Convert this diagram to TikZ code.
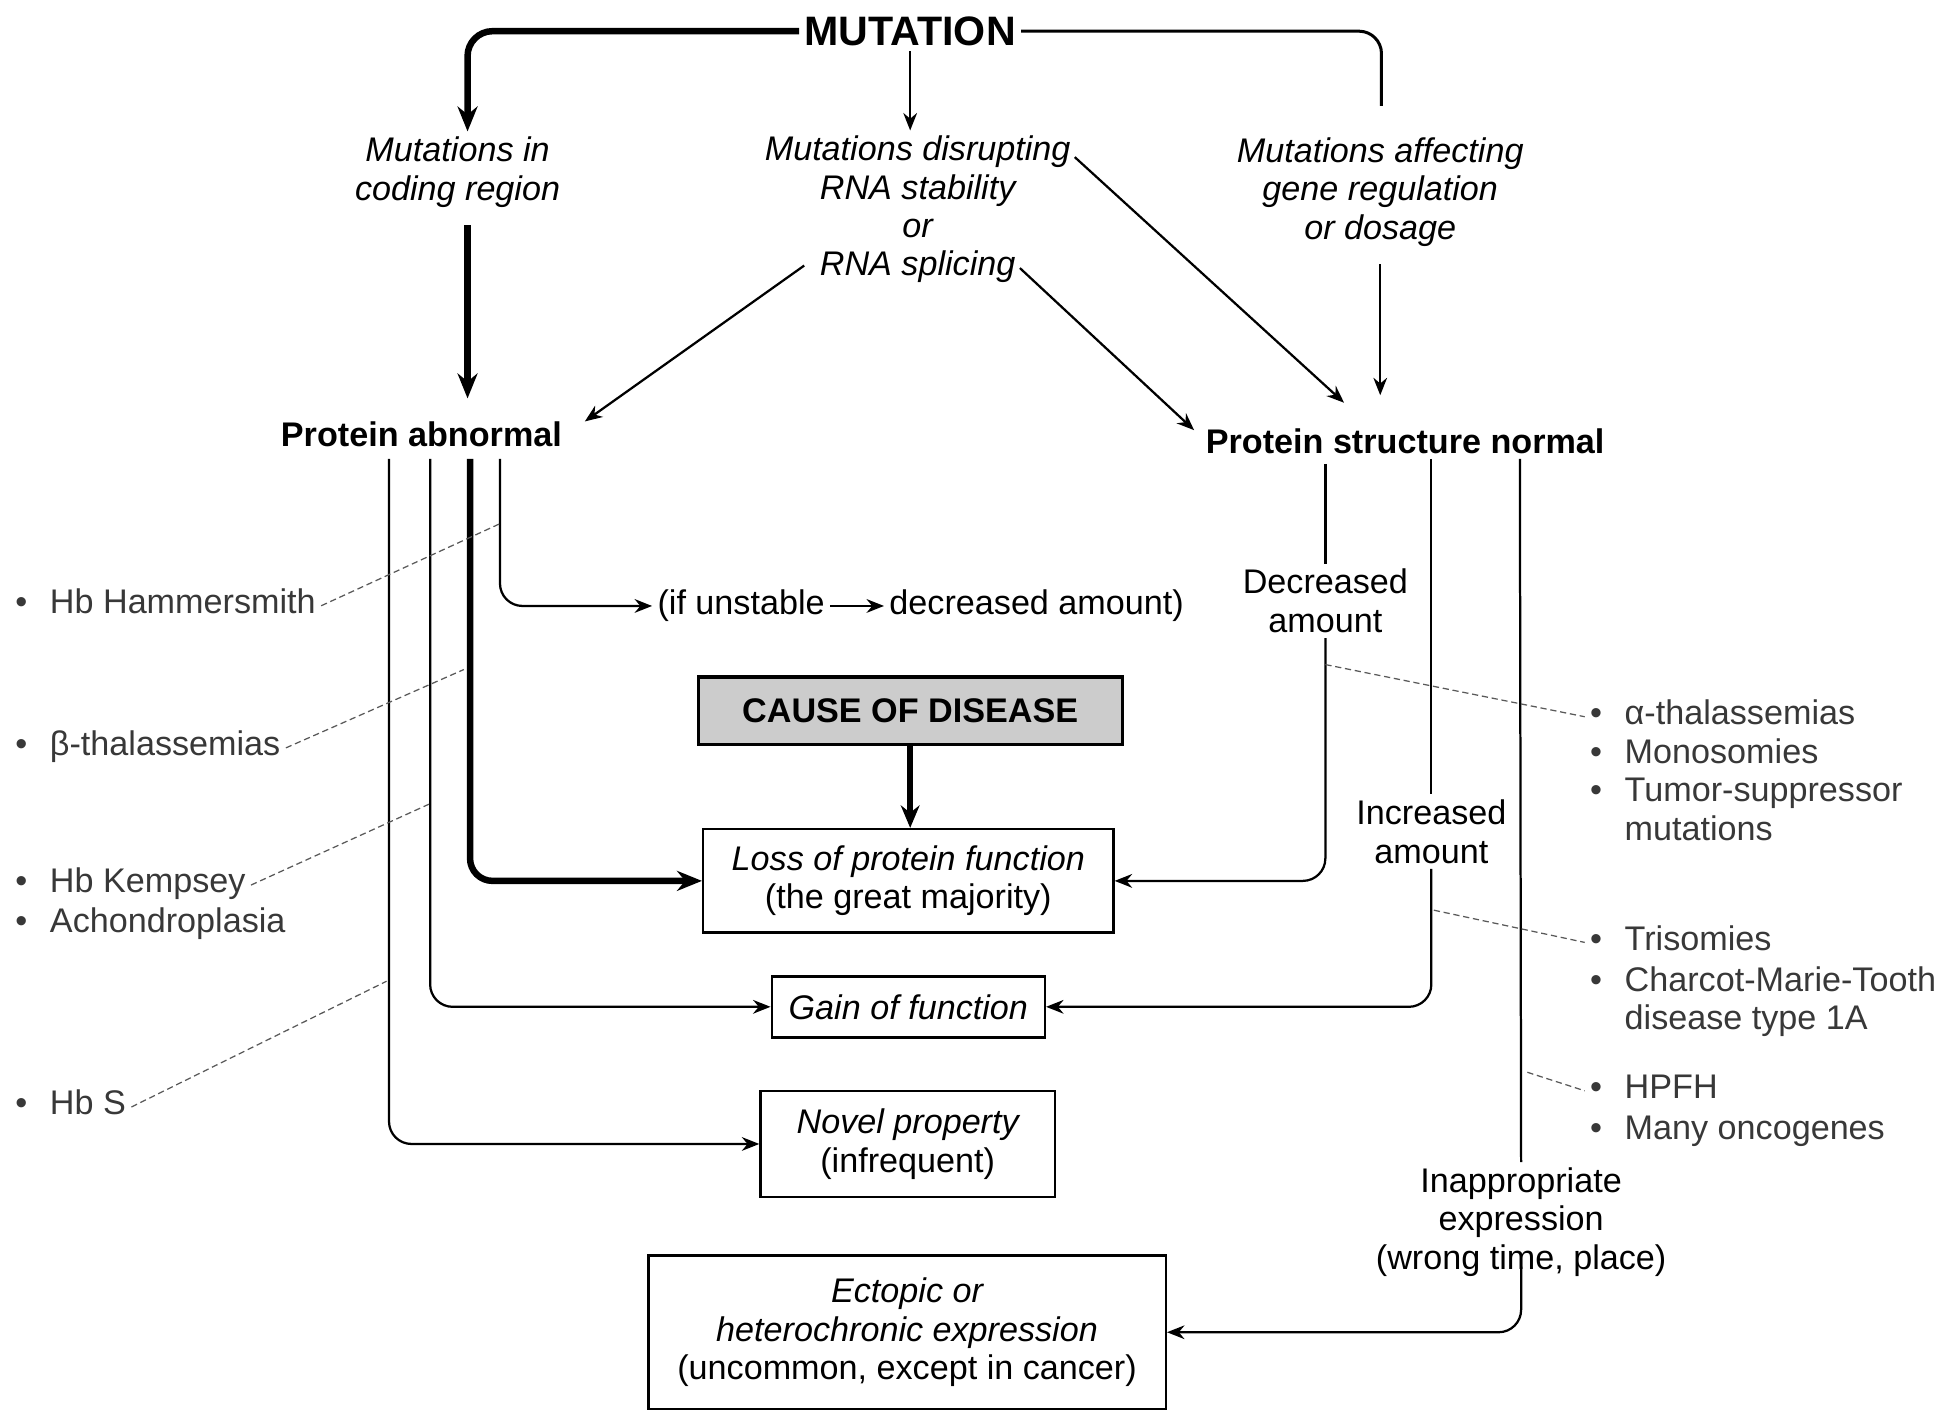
\documentclass[tikz,border=0pt]{standalone}
\usepackage{fontspec}
\setmainfont{Liberation Sans}
\usetikzlibrary{arrows.meta,calc}
\newcommand\bitem[1]{\begin{tabular}[t]{@{}l@{\hspace{0.66em}}l@{}}\textbullet & #1\end{tabular}}
\begin{document}
\begin{tikzpicture}[x=0.5pt,y=-0.5pt,
  fnt/.style={font=\fontsize{13.7}{15.4}\selectfont},
  base/.style={inner sep=2pt, fnt, align=center},
  itl/.style={base, font=\fontsize{13.7}{15.4}\selectfont\itshape},
  bld/.style={base, font=\fontsize{13.7}{15.4}\selectfont\bfseries},
  ann/.style={inner sep=2pt, fnt, anchor=base west, text=black!78},
  boxed/.style={base, draw, line width=1pt},
  ln/.style={line width=0.9pt},
  arr/.style={ln, -{Stealth[length=7pt,width=5.5pt]}},
  tline/.style={line width=2.6pt},
  tarr/.style={tline, -{Stealth[length=10pt,width=8pt]}},
  lead/.style={line width=0.5pt, black!65, dash pattern=on 2.5pt off 1.5pt},
  rc/.style={rounded corners=9pt}
]
\useasboundingbox (0,0) rectangle (1568,1131);

% ---------- top level ----------
\node[base, font=\fontsize{16.5}{18}\selectfont\bfseries] (mut) at (730,25) {MUTATION};
\node[itl] (coding) at (367,138) {Mutations in\\coding region};
\node[itl] (rna) at (736,168) {Mutations disrupting\\RNA stability\\or\\RNA splicing};
\node[itl] (gene) at (1107,154) {Mutations affecting\\gene regulation\\or dosage};
\node[bld] (pab) at (338,348) {Protein abnormal};
\node[bld] (psn) at (1127,354) {Protein structure normal};
\coordinate (gtop) at (1108,85);

\draw[tarr, rounded corners=10pt] (mut.west) -| ($(coding.north)+(8,0)$);
\draw[arr] (mut.south) -- (mut.south |- rna.north);
\draw[line width=1.2pt, rc] (mut.east) -| (gtop);

\draw[tarr] ($(coding.south)+(8,10)$) -- ($(coding.south |- pab.north)+(8,-14)$);
\draw[arr] ($(rna.center)+(-91,45)$) -- ($(pab.east)+(14,-10)$);
\draw[arr] ($(rna.center)+(82,47)$) -- ($(psn.west)+(-5,-9)$);
\draw[arr] ($(rna.center)+(126,-42)$) -- ($(psn.center)+(-49,-31)$);
\draw[arr] ($(gene.south)+(0,10)$) -- ($(gene.south |- psn.center)+(0,-37)$);

% ---------- outcomes ----------
\node[base, anchor=west] (un1) at (523,486) {(if unstable};
\node[base, anchor=west] (un2) at (709,486) {decreased amount)};
\draw[arr] (un1.east) -- (un2.west);

\node[boxed, bld, fill=black!20, line width=1.3pt, minimum width=170pt, minimum height=27pt] (cause) at (730,570) {CAUSE OF DISEASE};
\node[boxed, minimum width=164.5pt, minimum height=41.5pt] (loss) at (728.5,706.5) {{\itshape Loss of protein function}\\(the great majority)};
\node[boxed, itl, minimum width=109.5pt, minimum height=24.5pt] (gain) at (728.5,807.5) {Gain of function};
\node[boxed, minimum width=118pt, minimum height=42.5pt] (novel) at (728,917.5) {{\itshape Novel property}\\(infrequent)};
\node[boxed, minimum width=207.5pt, minimum height=61.5pt] (ecto) at (727.5,1068.5) {{\itshape Ectopic or}\\{\itshape heterochronic expression}\\(uncommon, except in cancer)};

\draw[line width=2.2pt, -{Stealth[length=9pt,width=7.5pt]}] (cause.south) -- (cause.south |- loss.north);

% left branches
\draw[arr, rc] ($(pab.center)+(-26,20)$) |- (novel.west);
\draw[arr, rc] ($(pab.center)+(7,20)$) |- (gain.west);
\draw[tarr, rc] ($(pab.center)+(39,20)$) |- (loss.west);
\draw[arr, rc] ($(pab.center)+(63,20)$) |- (un1.west);

% right branches
\node[base] (dec) at (1063,482) {Decreased\\amount};
\node[base] (inc) at (1148,667) {Increased\\amount};
\node[base] (inap) at (1220,980) {Inappropriate\\expression\\(wrong time, place)};

\draw[ln] ($(psn.center)+(-64,18)$) -- (dec.north);
\draw[arr, rc] (dec.south) |- (loss.east);
\draw[ln] ($(psn.center)+(21,14)$) -- (inc.north);
\draw[arr, rc] (inc.south) |- (gain.east);
\draw[ln] ($(psn.center)+(92,14)$) -- (inap.north);
\draw[arr, rc] ($(inap.south)+(0,-12)$) |- (ecto.east);

% ---------- examples ----------
\node[ann] (hammer) at (8,492) {\bitem{Hb Hammersmith}};
\node[ann] (beta) at (8,606) {\bitem{β-thalassemias}};
\node[ann] (kemp) at (8,716) {\bitem{Hb Kempsey}};
\node[ann] (achon) at (8,748) {\bitem{Achondroplasia}};
\node[ann] (hbs) at (8,894) {\bitem{Hb S}};

\node[ann] (alpha) at (1271,581) {\bitem{α-thalassemias}};
\node[ann] (mono) at (1271,612) {\bitem{Monosomies}};
\node[ann] (tumor) at (1271,643) {\bitem{Tumor-suppressor\\ & mutations}};
\node[ann] (tri) at (1271,762) {\bitem{Trisomies}};
\node[ann] (cmt) at (1271,795) {\bitem{Charcot-Marie-Tooth\\ & disease type 1A}};
\node[ann] (hpfh) at (1271,881) {\bitem{HPFH}};
\node[ann] (onco) at (1271,914) {\bitem{Many oncogenes}};

\coordinate (pH) at (401,420);
\coordinate (pB) at (372,537);
\coordinate (pK) at (344,645);
\coordinate (pS) at (310,787);
\coordinate (pA) at (1063,533);
\coordinate (pT) at (1150,730);
\coordinate (pP) at (1225,860);
\draw[lead] (hammer.east) -- (pH);
\draw[lead] (beta.east) -- (pB);
\draw[lead] (kemp.east) -- (pK);
\draw[lead] (hbs.east) -- (pS);
\draw[lead] (pA) -- (alpha.west);
\draw[lead] (pT) -- (tri.west);
\draw[lead] (pP) -- (hpfh.west);
\end{tikzpicture}
\end{document}
